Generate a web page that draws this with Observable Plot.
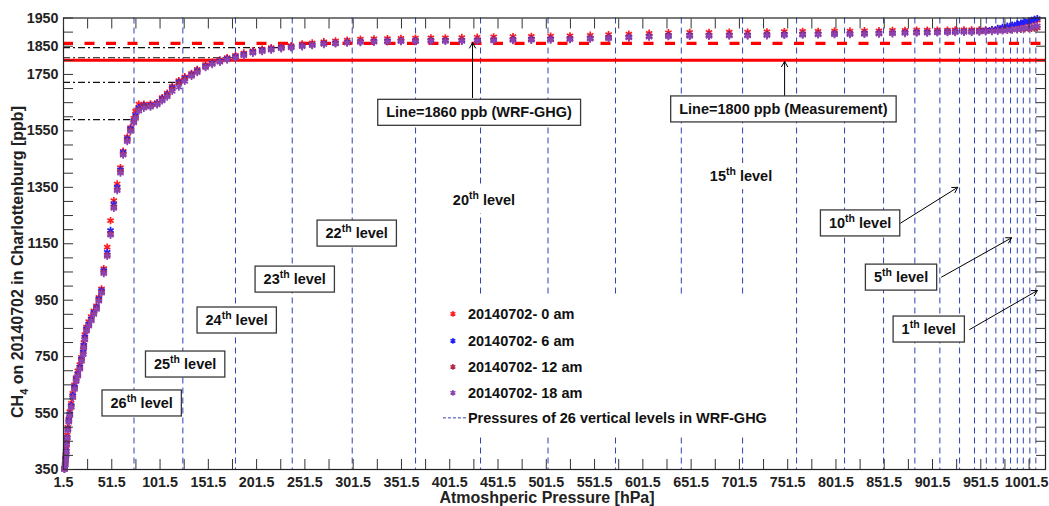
<!DOCTYPE html>
<html><head><meta charset="utf-8">
<script src="https://cdn.jsdelivr.net/npm/d3@7"></script>
<script src="https://cdn.jsdelivr.net/npm/@observablehq/plot@0.6"></script>
<style>body{margin:0;background:#fff;} svg{display:block;}</style>
</head><body><div id="chart"></div>
<script>
// ---------- data ----------
const pressure = [2.5,3.2,3.6,4.0,4.3,4.6,5.3,6.0,7.0,8.0,
  9.5,11.1,12.9,14.6,16.3,18.4,20.1,21.9,22.5,23.6,
  25.3,27.7,30.2,32.9,35.7,38.1,40.9,43.2,46.8,50.2,
  53.6,57.1,60.5,63.3,67.5,70.9,74.3,76.1,79.5,84.7,
  91.6,98.5,103.7,108.9,114.1,120.9,127.1,134.1,140.0,148.6,
  155.5,163.4,171.0,179.6,188.2,197.6,207.3,216.6,227.0,237.3,
  248.7,259.1,271.1,283.2,295.3,309,323,337,351,366,
  382,397,414,430,447,467,486,506,526,547,
  566,587,608,628,650,670,691,710,730,748,
  767,783,800,816,831,846,860,873,885,896,
  906.5,917,925,934,942,950,956.5,963,969,974,
  979,984,989,993,997,1001,1004,1007,1010];
const ch4_00am = [355,372,390,405,425,450,472,500,530,555,
  585,620,650,676,700,722,748,775,800,828,
  855,874,892,912,930,960,990,1062,1138,1232,
  1303,1362,1420,1478,1528,1562,1595,1620,1645,1645,
  1646,1650,1668,1684,1708,1728,1742,1754,1768,1785,
  1794,1802,1810,1818,1826,1834,1840,1845,1849,1852,
  1858,1862,1866,1869,1872,1875,1876,1877,1878,1879,
  1880,1880,1881,1882,1883,1884,1885,1886,1887,1889,
  1891,1893,1896,1898,1899,1899,1900,1900,1901,1902,
  1903,1903,1904,1904,1905,1905,1906,1906,1907,1907,
  1907,1907,1908,1908,1908,1908,1908,1909,1912,1915,
  1919,1922,1926,1929,1932,1935,1938,1940,1942];
const ch4_06am = [352,368,385,400,417,441,464,494,524,547,
  577,612,642,671,689,713,742,766,790,819,
  849,866,884,907,925,955,984,1055,1120,1197,
  1290,1350,1412,1474,1522,1557,1587,1605,1632,1640,
  1641,1648,1664,1679,1703,1723,1737,1750,1764,1780,
  1790,1798,1806,1813,1821,1830,1836,1841,1845,1848,
  1852,1856,1860,1862,1865,1867,1868,1869,1870,1870,
  1871,1871,1871,1872,1873,1874,1875,1876,1877,1879,
  1881,1883,1886,1888,1889,1889,1890,1890,1891,1892,
  1893,1894,1895,1895,1896,1897,1898,1899,1900,1900,
  1901,1902,1902,1903,1903,1904,1906,1909,1913,1917,
  1921,1925,1929,1932,1936,1939,1942,1945,1948];
const ch4_12am = [350,366,383,398,414,438,462,490,520,543,
  572,606,636,665,684,708,736,760,784,812,
  843,861,879,902,920,950,978,1048,1110,1185,
  1280,1342,1405,1468,1516,1552,1582,1598,1626,1636,
  1638,1645,1660,1675,1698,1718,1733,1747,1760,1777,
  1787,1795,1803,1810,1818,1827,1833,1838,1843,1846,
  1850,1854,1858,1860,1863,1865,1866,1867,1868,1868,
  1869,1869,1869,1870,1871,1872,1873,1874,1875,1877,
  1879,1881,1884,1886,1887,1887,1888,1888,1889,1890,
  1891,1892,1893,1893,1894,1895,1896,1897,1898,1898,
  1899,1900,1900,1901,1901,1902,1903,1904,1905,1906,
  1907,1908,1909,1910,1911,1912,1913,1914,1915];
const ch4_18am = [350,365,381,396,412,436,460,488,518,541,
  570,604,634,662,681,705,733,757,781,809,
  840,858,876,899,917,946,975,1044,1105,1180,
  1275,1338,1400,1464,1512,1548,1578,1594,1620,1630,
  1634,1642,1656,1670,1690,1705,1725,1743,1756,1774,
  1785,1793,1801,1808,1816,1825,1831,1836,1841,1844,
  1848,1852,1856,1858,1861,1863,1864,1865,1866,1866,
  1867,1867,1867,1868,1869,1870,1871,1872,1873,1875,
  1877,1879,1882,1884,1885,1885,1886,1886,1887,1888,
  1889,1890,1891,1891,1892,1893,1894,1895,1896,1896,
  1897,1898,1898,1899,1899,1900,1901,1902,1903,1904,
  1906,1908,1910,1912,1914,1916,1918,1920,1922];
const seriesNames = ["20140702- 0 am","20140702- 6 am","20140702- 12 am","20140702- 18 am"];
const seriesColors = ["#ff1f1f","#1f1fff","#b02a44","#8c44b4"];

// pressures of WRF-GHG vertical levels (level 1 ... level 26)
const levelNumber = [1,2,3,4,5,6,7,8,9,10,11,12,13,14,15,16,17,18,19,20,21,22,23,24,25,26];
const levelPressure = [1008.5,1002.3,995.5,989.3,982.3,974.8,967.1,957.2,945.0,929.5,
  909.1,883.2,850.8,810.4,760.7,704.8,641.3,573.2,503.3,433.4,366.1,300.5,238.4,179.6,125.1,74.5];
// model CH4 at the upper levels (dash-dot guides)
const guideLevel = [26,25,24,23];
const guideValue = [1590,1722,1809,1845];
const wrfLine = 1860, measLine = 1800;

const xTickLabels = [1.5,51.5,101.5,151.5,201.5,251.5,301.5,351.5,401.5,451.5,501.5,551.5,601.5,651.5,701.5,751.5,801.5,851.5,901.5,951.5];
const xLastTickLabel = [1001.5];
const yTickLabels = [350,550,750,950,1150,1350,1550,1750,1850,1950];

// annotations (data coordinates)
const levelLabelNum = ["26","25","24","23","22","20","15","10","5","1"];
const levelLabelP   = [83,128,181.4,241.5,305.7,437.5,703.7,827,869.4,898.1];
const levelLabelV   = [584,722,878,1023,1186,1303,1388,1222,1030,846];
const levelLabelFramed = [true,true,true,true,true,false,false,true,true,true];
const lineLabelText = ["Line=1860 ppb (WRF-GHG)","Line=1800 ppb (Measurement)"];
const lineLabelP = [432.4,747.5];
const lineLabelV = [1614,1626];
const arrowP1 = [425.1,748.3,868.4,910.9,939.9];
const arrowV1 = [1668,1672,1223,1032,846];
const arrowP2 = [425.1,748.3,927.6,983.4,1010];
const arrowV2 = [1862,1796,1350,1171,984];

// ---------- tables ----------
const seriesValues = [ch4_00am, ch4_06am, ch4_12am, ch4_18am];
const rows = [];
seriesNames.forEach((s, i) => pressure.forEach((p, j) => rows.push({series: s, p, v: seriesValues[i][j]})));
const guides = guideLevel.map((l, i) => ({p: levelPressure[levelNumber.indexOf(l)], v: guideValue[i]}));
const arrows = arrowP1.map((_, i) => ({p1: arrowP1[i], v1: arrowV1[i], p2: arrowP2[i], v2: arrowV2[i]}));
const xMinor = d3.range(1.5, 1018.5, 25);
const yMinor = d3.range(350, 1951, 50);

const FONT = "'Liberation Sans', Arial, Helvetica, sans-serif";
const levelBlue = "#2f40b4";

const chart = Plot.plot({
  width: 1049, height: 506,
  marginLeft: 63, marginRight: 4, marginTop: 17.5, marginBottom: 37,
  style: {fontFamily: FONT, fontSize: "14.3px", fontWeight: "bold", color: "#222", background: "#fff"},
  x: {domain: [1.5, 1018.5]},
  y: {domain: [350, 1950]},
  color: {domain: seriesNames, range: seriesColors},
  marks: [
    Plot.ruleX(levelPressure, {stroke: levelBlue, strokeWidth: 1, strokeDasharray: "6,4"}),
    Plot.ruleY(guides, {y: "v", x1: 1.5, x2: "p", stroke: "#111", strokeWidth: 1.1, strokeDasharray: "7,3,2,3"}),
    Plot.ruleY([measLine], {stroke: "#ff0000", strokeWidth: 3}),
    Plot.ruleY([wrfLine], {stroke: "#ff0000", strokeWidth: 3.3, strokeDasharray: "10,11.5"}),
    Plot.dot(rows, {x: "p", y: "v", stroke: "series", symbol: "asterisk", r: 3.4, strokeWidth: 1.7}),
    Plot.arrow(arrows, {x1: "p1", y1: "v1", x2: "p2", y2: "v2", stroke: "#000", strokeWidth: 1, headLength: 9}),
    Plot.frame({stroke: "#222", strokeWidth: 1.2}),
    Plot.axisX({anchor: "bottom", ticks: xMinor, tickSize: -10, fill: "none", stroke: "#333", label: null}),
    Plot.axisX({anchor: "top", ticks: xMinor, tickSize: -10, fill: "none", stroke: "#333", label: null}),
    Plot.axisX({anchor: "bottom", ticks: xTickLabels, tickSize: 0, tickPadding: 7, tickFormat: d => String(d), fill: "#222", label: null}),
    Plot.axisX({anchor: "bottom", ticks: xLastTickLabel, tickSize: 0, tickPadding: 7, dx: -2.5, tickFormat: d => String(d), fill: "#222", label: null}),
    Plot.axisY({anchor: "left", ticks: yMinor, tickSize: -10, fill: "none", stroke: "#333", label: null}),
    Plot.axisY({anchor: "right", ticks: yMinor, tickSize: -10, fill: "none", stroke: "#333", label: null}),
    Plot.axisY({anchor: "left", ticks: yTickLabels, tickSize: 0, tickPadding: 5, tickFormat: d => String(d), fill: "#222", label: null})
  ]
});
document.getElementById("chart").appendChild(chart);

// ---------- annotations through Plot's scales ----------
const svg = d3.select(chart);
const sx = chart.scale("x"), sy = chart.scale("y");
const ann = svg.append("g").attr("font-family", FONT).attr("font-weight", "bold")
  .attr("font-size", "14.5px").attr("fill", "#111").attr("text-anchor", "start");

function boxedText(buildText, cx, cy, h, framed) {
  const g = ann.append("g");
  const rect = g.append("rect");
  const t = g.append("text").attr("x", cx).attr("y", cy + 5).attr("text-anchor", "middle");
  buildText(t);
  const bb = t.node().getBBox();
  rect.attr("x", bb.x - 8.5).attr("y", cy - h / 2).attr("width", bb.width + 17).attr("height", h)
      .attr("fill", "#fff").attr("stroke", framed ? "#3a3a3a" : "none").attr("stroke-width", 1.3);
}
levelLabelNum.forEach((n, i) => {
  boxedText(t => {
    t.append("tspan").text(n);
    t.append("tspan").attr("dy", -6).attr("font-size", "10.5px").text("th");
    t.append("tspan").attr("dy", 6).text(" level");
  }, sx.apply(levelLabelP[i]), sy.apply(levelLabelV[i]), 26, levelLabelFramed[i]);
});
lineLabelText.forEach((s, i) => {
  boxedText(t => t.text(s), sx.apply(lineLabelP[i]), sy.apply(lineLabelV[i]), 26, true);
});

// legend (inside axes, white background)
const lx = sx.apply(381.5), ly = sy.apply(960);
const leg = ann.append("g").attr("transform", `translate(${lx},${ly})`);
leg.append("rect").attr("width", 335).attr("height", 139).attr("fill", "#fff");
const rowY = [17, 44, 70, 96, 121];
seriesNames.forEach((s, i) => {
  leg.append("path").attr("d", d3.symbol(d3.symbolAsterisk, 22)())
     .attr("transform", `translate(23,${rowY[i]})`).attr("fill", "none")
     .attr("stroke", seriesColors[i]).attr("stroke-width", 1.5);
  leg.append("text").attr("x", 38).attr("y", rowY[i] + 5).attr("text-anchor", "start").text(s);
});
leg.append("line").attr("x1", 13).attr("x2", 37).attr("y1", rowY[4]).attr("y2", rowY[4])
   .attr("stroke", levelBlue).attr("stroke-width", 1).attr("stroke-dasharray", "3,2");
leg.append("text").attr("x", 38).attr("y", rowY[4] + 5).attr("text-anchor", "start").text("Pressures of 26 vertical levels in WRF-GHG");

// axis titles
ann.append("text").attr("x", 547).attr("y", 503).attr("text-anchor", "middle").attr("font-size", "16px").attr("fill", "#222")
   .text("Atmoshperic Pressure [hPa]");
const yl = ann.append("text").attr("transform", "translate(22.5,262) rotate(-90)").attr("text-anchor", "middle")
   .attr("font-size", "16px").attr("fill", "#222");
yl.append("tspan").text("CH");
yl.append("tspan").attr("dy", 5).attr("font-size", "11px").text("4");
yl.append("tspan").attr("dy", -5).text(" on 20140702 in Charlottenburg [ppb]");
</script>
</body></html>
